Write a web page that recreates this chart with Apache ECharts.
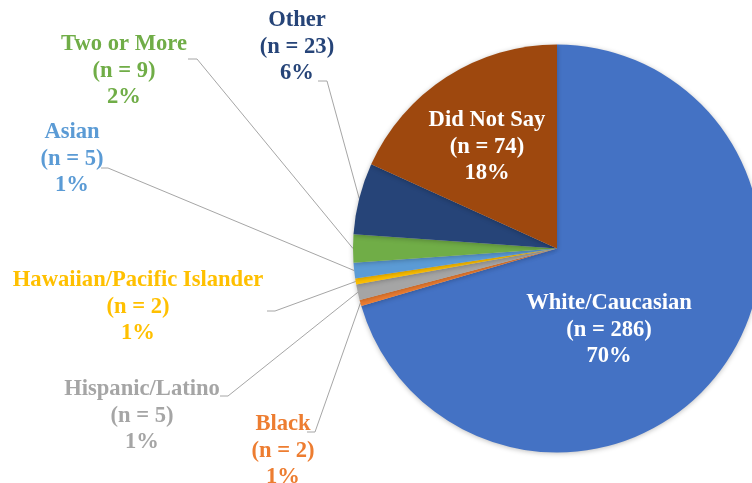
<!DOCTYPE html>
<html>
<head>
<meta charset="utf-8">
<script src="https://cdn.jsdelivr.net/npm/echarts@6/dist/echarts.min.js"></script>
<style>html,body{margin:0;padding:0;background:#fff}#c{width:752px;height:483px}</style>
</head>
<body>
<div id="c"></div>
<script>
var categories = ['White/Caucasian','Black','Hispanic/Latino','Hawaiian/Pacific Islander','Asian','Two or More','Other','Did Not Say'];
var counts = [286, 2, 5, 2, 5, 9, 23, 74];
var pctLabels = ['70%','1%','1%','1%','1%','2%','6%','18%'];
var colors = ['#4472C4','#ED7D31','#A5A5A5','#FFC000','#5B9BD5','#70AD47','#264478','#9E480E'];
var labelColors = ['#FFFFFF','#ED7D31','#A5A5A5','#FFC000','#5B9BD5','#70AD47','#264478','#FFFFFF'];
var inside = [true,false,false,false,false,false,false,true];

// label layout (centre of middle text line) and leader elbow points
var labelPos = [[609,330],[283,451],[142,416],[138,307],[72,159],[124,71],[297,47],[487,147]];
var elbows = [null,[[315,432],[307,432]],[[228,396],[220,396]],[[275,311],[267,311]],[[108,168],[101,168]],[[197,59],[188,59]],[[327,81],[318,81]],null];

var chart = echarts.init(document.getElementById('c'), null, {renderer:'canvas'});
var data = categories.map(function(n,i){
  return {
    name:n, value:counts[i],
    itemStyle:{color:colors[i]},
    label:{position: inside[i] ? 'inside' : 'outside', color:labelColors[i]},
    labelLine:{show: !inside[i]}
  };
});
chart.setOption({
  animation:false,
  backgroundColor:'#fff',
  series:[{
    type:'pie',
    center:[557,248.5],
    radius:[0,204],
    startAngle:90,
    clockwise:true,
    avoidLabelOverlap:false,
    itemStyle:{borderWidth:0, shadowBlur:5, shadowColor:'rgba(0,0,0,0.25)', shadowOffsetY:1},
    label:{
      fontFamily:'Liberation Serif', fontWeight:'bold', fontSize:22.6, lineHeight:26.5,
      align:'center',
      formatter:function(p){ return p.name + '\n(n = ' + p.value + ')\n' + pctLabels[p.dataIndex]; }
    },
    labelLine:{show:true, length:20, length2:10, lineStyle:{color:'#A6A6A6', width:1}},
    labelLayout:function(p){
      var i = p.dataIndex;
      var o = {x:labelPos[i][0], y:labelPos[i][1], align:'center', verticalAlign:'middle'};
      if (elbows[i] && p.labelLinePoints) {
        o.labelLinePoints = [p.labelLinePoints[0], elbows[i][0], elbows[i][1]];
      }
      return o;
    },
    data:data
  }]
});
</script>
</body>
</html>
